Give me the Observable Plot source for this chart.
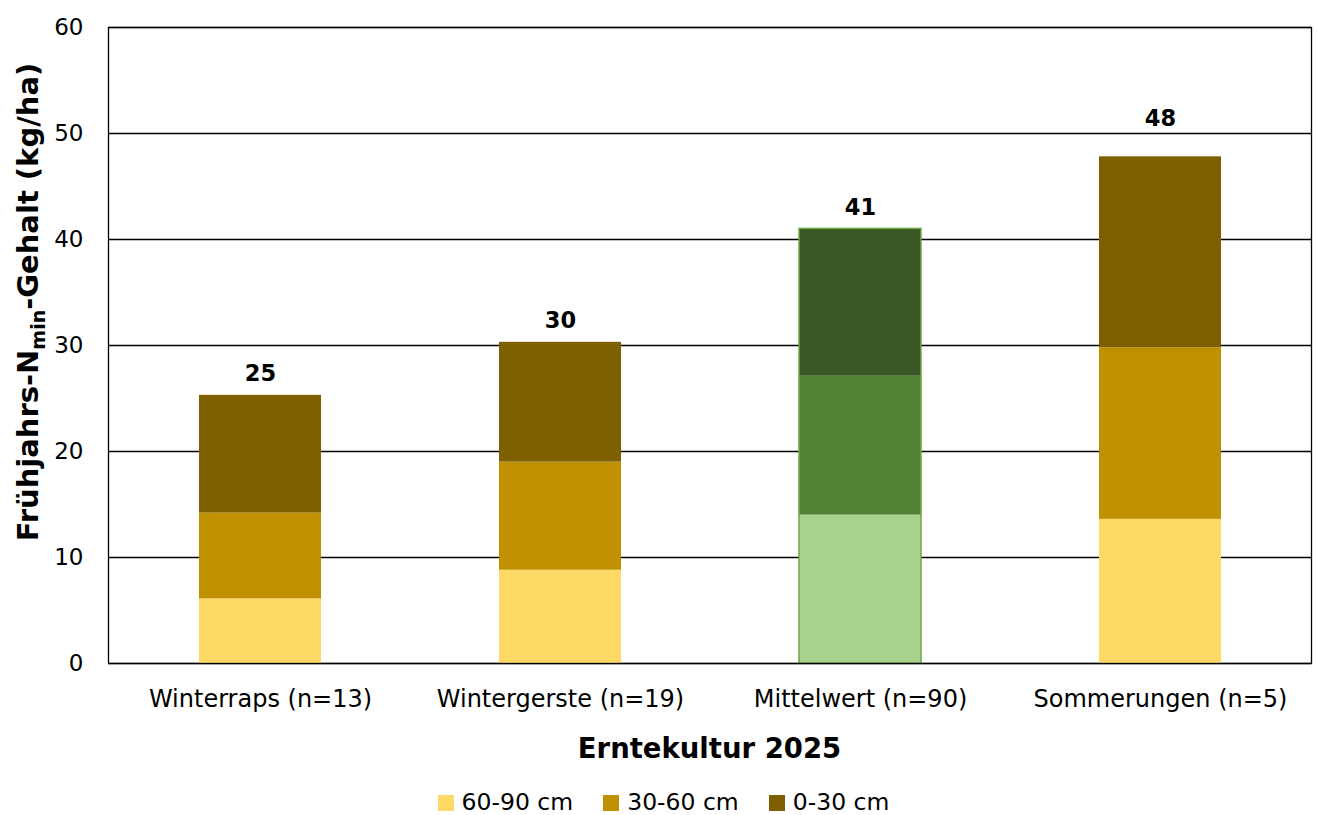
<!DOCTYPE html>
<html>
<head>
<meta charset="utf-8">
<script src="https://cdn.jsdelivr.net/npm/d3@7"></script>
<script src="https://cdn.jsdelivr.net/npm/@observablehq/plot@0.6"></script>
<style>
  html, body { margin: 0; background: #fff; overflow: hidden; font-family: "DejaVu Sans", Verdana, sans-serif; }
  #chart svg { display: block; }
  #legend { display: flex; justify-content: center; gap: 30px; font-size: 23.5px; line-height: 27px; color: #000; margin-top: 17px; padding-left: 10px; }
  #legend span.item { display: inline-flex; align-items: center; }
  #legend i { display: inline-block; width: 16px; height: 16px; margin-right: 8px; }
</style>
</head>
<body>
<div id="chart"></div>
<div id="legend"></div>
<script>
const categories = ["Winterraps (n=13)", "Wintergerste (n=19)", "Mittelwert (n=90)", "Sommerungen (n=5)"];
const depths = ["60-90 cm", "30-60 cm", "0-30 cm"];
const v60_90 = [6.1, 8.8, 14.0, 13.6];
const v30_60 = [8.1, 10.2, 13.1, 16.2];
const v0_30 = [11.1, 11.3, 13.9, 18.0];
const totals = [25, 30, 41, 48];
const yTicks = [0, 10, 20, 30, 40, 50, 60];
const depthColors = ["#FED966", "#BF9000", "#7F6000"];
const meanColors = ["#A9D18E", "#548235", "#385723"];
const meanCategory = "Mittelwert (n=90)";
const raisedLabelCategory = "Sommerungen (n=5)";

const series = [v60_90, v30_60, v0_30];
const rows = [];
categories.forEach((c, ci) => {
  series.forEach((s, si) => {
    rows.push({cat: c, depth: depths[si], value: s[ci],
      color: c === meanCategory ? meanColors[si] : depthColors[si]});
  });
});
const totalRows = categories.map((c, i) => ({cat: c, total: totals[i], top: v60_90[i] + v30_60[i] + v0_30[i]}));

const W = 1317, H = 772;
const font = "DejaVu Sans, Verdana, sans-serif";
const labelStyle = {x: "cat", y: "top", text: d => String(d.total), fontWeight: "bold", fontSize: 22.5};
const chart = Plot.plot({
  width: W, height: H,
  marginLeft: 108, marginRight: 6, marginTop: 27, marginBottom: 109,
  style: {fontFamily: font, fontSize: "23px", color: "#000", background: "#fff"},
  x: {domain: categories, paddingInner: 0.594, paddingOuter: 0.297, label: null},
  y: {domain: [0, 60], ticks: yTicks, label: null},
  color: {type: "identity"},
  marks: [
    Plot.gridY(yTicks, {stroke: "#000", strokeOpacity: 1, strokeWidth: 1.3}),
    Plot.barY(rows, {x: "cat", y: "value", fill: "color", order: null}),
    Plot.barY(totalRows.filter(d => d.cat === meanCategory), {x: "cat", y: "top", fill: "none", stroke: "#6FA848", strokeWidth: 1.5}),
    Plot.text(totalRows.filter(d => d.cat !== raisedLabelCategory), {...labelStyle, dy: -21.5}),
    Plot.text(totalRows.filter(d => d.cat === raisedLabelCategory), {...labelStyle, dy: -38.5}),
    Plot.frame({stroke: "#000", strokeWidth: 1.3}),
    Plot.axisY({ticks: yTicks, tickSize: 0, tickPadding: 25, label: null, fontSize: 23}),
    Plot.axisX({tickSize: 0, tickPadding: 26, label: null, fontSize: 24})
  ]
});
document.getElementById("chart").appendChild(chart);

const svg = d3.select(chart);
// y-axis label with subscript
const yl = svg.append("text")
  .attr("transform", "translate(38,302) rotate(-90)")
  .attr("text-anchor", "middle")
  .attr("font-family", font)
  .attr("font-weight", "bold")
  .attr("font-size", 29)
  .attr("fill", "#000");
yl.append("tspan").text("Frühjahrs-N");
yl.append("tspan").attr("font-size", 19).attr("dy", 7).text("min");
yl.append("tspan").attr("dy", -7).text("-Gehalt (kg/ha)");
// x-axis label
svg.append("text")
  .attr("x", (108 + (W - 6)) / 2).attr("y", 758)
  .attr("text-anchor", "middle")
  .attr("font-family", font).attr("font-weight", "bold").attr("font-size", 27.5)
  .attr("fill", "#000")
  .text("Erntekultur 2025");

const legend = document.getElementById("legend");
depths.forEach((d, i) => {
  const item = document.createElement("span");
  item.className = "item";
  item.innerHTML = `<i style="background:${depthColors[i]}"></i>${d}`;
  legend.appendChild(item);
});
</script>
</body>
</html>
